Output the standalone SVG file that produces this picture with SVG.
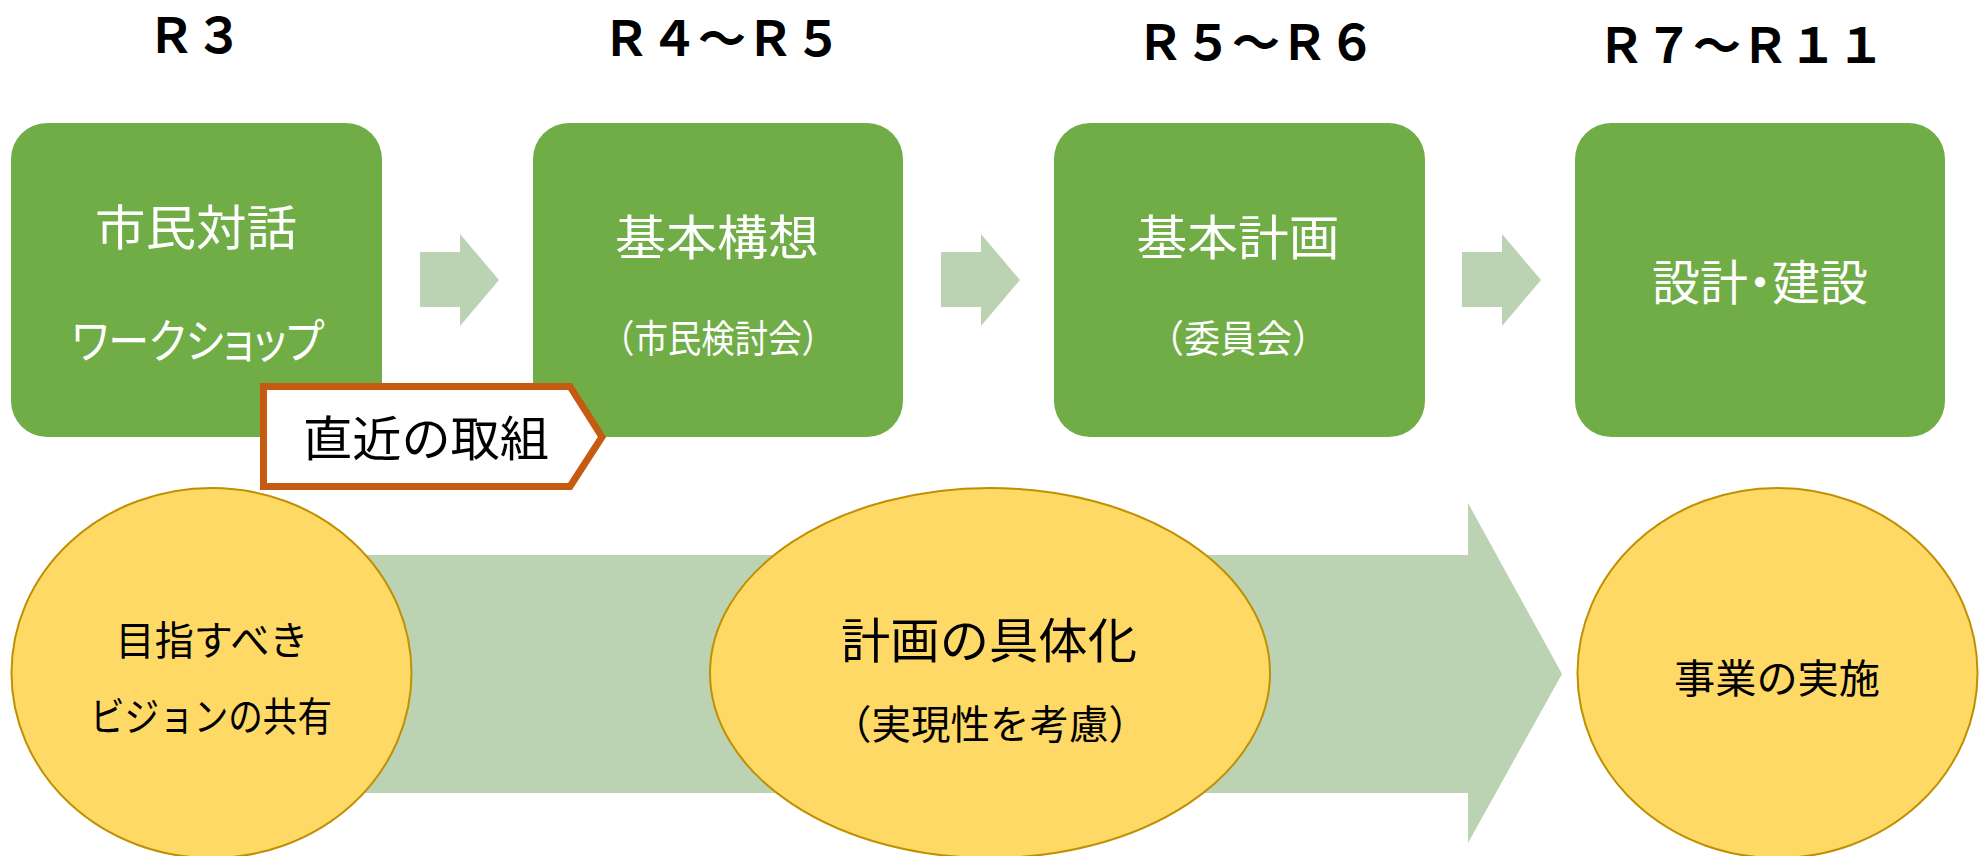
<svg xmlns="http://www.w3.org/2000/svg" width="1982" height="856" viewBox="0 0 1982 856">
<style>
.t{font-family:"Noto Sans CJK JP","Noto Sans CJK SC",sans-serif;text-anchor:middle}
.title{font-size:48px;font-weight:700;fill:#000}
.box{fill:#70AD47}
.wt{fill:#fff}
.bk{fill:#000}
.sarrow{fill:#BBD3B3}
.ell{fill:#FFD966;stroke:#BF9000;stroke-width:2}
.tag{fill:#fff;stroke:#C55A11;stroke-width:7}
.palt{font-feature-settings:"palt" 1}
</style>
<rect width="1982" height="856" fill="#fff"/>
<g id="titles">
<text class="t title" x="195" y="53">Ｒ３</text>
<text class="t title" x="722" y="56">Ｒ４～Ｒ５</text>
<text class="t title" x="1256" y="60">Ｒ５～Ｒ６</text>
<text class="t title" x="1741" y="63">Ｒ７～Ｒ１１</text>
</g>
<g id="connectors">
<polygon class="sarrow" points="420,252 460,252 460,234 499,280 460,326 460,307 420,307"/>
<polygon class="sarrow" points="941,252 981,252 981,234 1020,280 981,326 981,307 941,307"/>
<polygon class="sarrow" points="1462,252 1502,252 1502,234 1541,280 1502,326 1502,307 1462,307"/>
<polygon class="sarrow" points="300,555 1468,555 1468,503 1562,674 1468,843 1468,793 300,793"/>
</g>
<g id="node-r3">
<rect class="box" x="11" y="123" width="371" height="314" rx="36"/>
<text class="t wt" x="196" y="245" font-size="48" textLength="202" lengthAdjust="spacingAndGlyphs">市民対話</text>
<text class="t wt palt" x="198" y="358" font-size="47" textLength="252" lengthAdjust="spacingAndGlyphs">ワークショップ</text>
</g>
<g id="node-r4">
<rect class="box" x="533" y="123" width="370" height="314" rx="36"/>
<text class="t wt" x="717" y="255" font-size="48" textLength="204" lengthAdjust="spacingAndGlyphs">基本構想</text>
<text class="t wt" x="718" y="352" font-size="38" textLength="234" lengthAdjust="spacingAndGlyphs">（市民検討会）</text>
</g>
<g id="node-r5">
<rect class="box" x="1054" y="123" width="371" height="314" rx="36"/>
<text class="t wt" x="1238" y="255" font-size="48" textLength="203" lengthAdjust="spacingAndGlyphs">基本計画</text>
<text class="t wt" x="1238" y="352" font-size="38" textLength="180" lengthAdjust="spacingAndGlyphs">（委員会）</text>
</g>
<g id="node-r7">
<rect class="box" x="1575" y="123" width="370" height="314" rx="36"/>
<text class="t wt palt" x="1760" y="300" font-size="48">設計・建設</text>
</g>
<g id="node-recent">
<polygon class="tag" points="263.5,386.5 570,386.5 602,437 570,486.5 263.5,486.5"/>
<text class="t bk" x="426" y="456" font-size="48" textLength="246" lengthAdjust="spacingAndGlyphs">直近の取組</text>
</g>
<g id="node-vision">
<ellipse class="ell" cx="211.5" cy="673" rx="200" ry="185"/>
<text class="t bk" x="212" y="655" font-size="40" textLength="193" lengthAdjust="spacingAndGlyphs">目指すべき</text>
<text class="t bk" x="211" y="731" font-size="40" textLength="242" lengthAdjust="spacingAndGlyphs">ビジョンの共有</text>
</g>
<g id="node-plan">
<ellipse class="ell" cx="990" cy="673" rx="280" ry="185"/>
<text class="t bk" x="989" y="658" font-size="48" textLength="296" lengthAdjust="spacingAndGlyphs">計画の具体化</text>
<text class="t bk" x="990" y="739" font-size="40" textLength="316" lengthAdjust="spacingAndGlyphs">（実現性を考慮）</text>
</g>
<g id="node-exec">
<ellipse class="ell" cx="1777.5" cy="673" rx="200" ry="185"/>
<text class="t bk" x="1777" y="693" font-size="40" textLength="206" lengthAdjust="spacingAndGlyphs">事業の実施</text>
</g>
</svg>
